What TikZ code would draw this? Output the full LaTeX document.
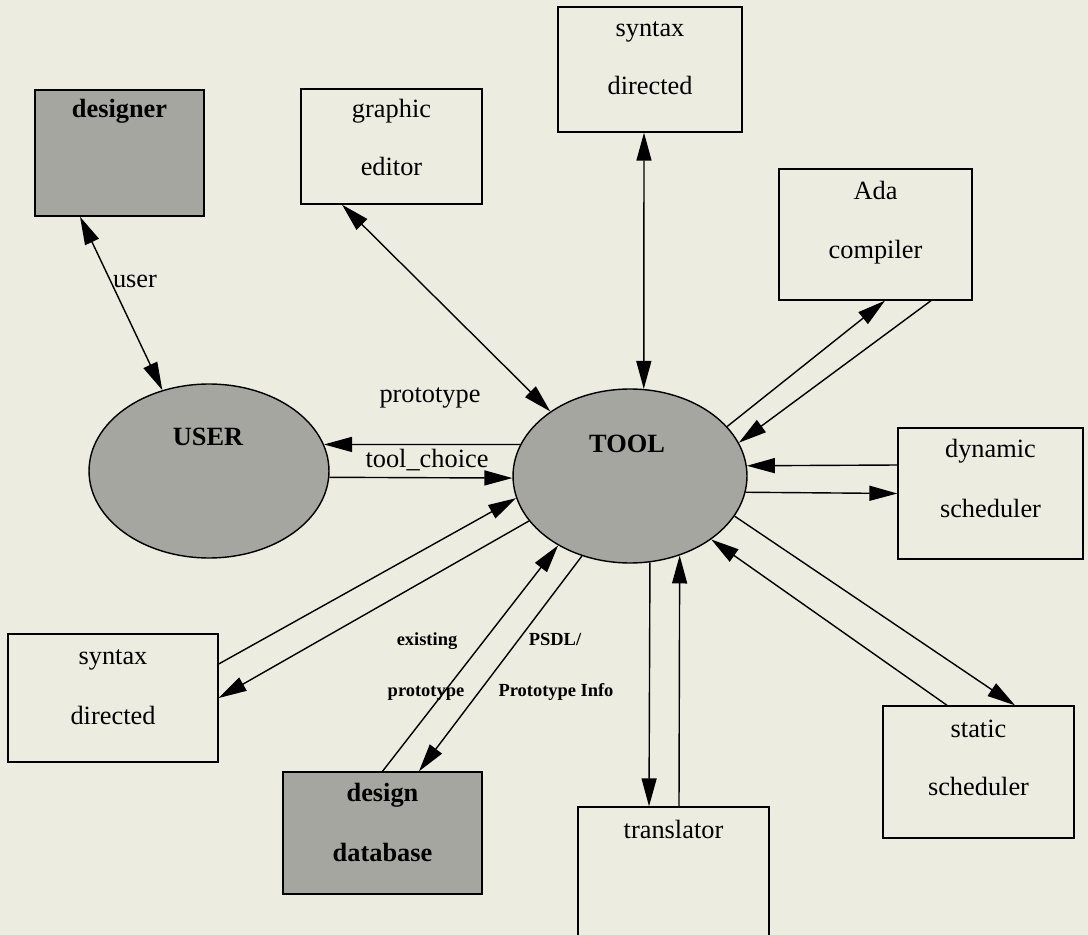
\documentclass[tikz,border=0pt]{standalone}
\usepackage{fontspec}
\setmainfont{Liberation Serif}
\usetikzlibrary{arrows.meta,shapes.geometric}
\definecolor{paper}{RGB}{237,236,225}
\definecolor{dots}{RGB}{166,166,161}
\tikzset{
    box/.style={draw, rectangle, inner sep=0pt, line width=0.8pt},
    shadedbox/.style={box, fill=dots},
    bubble/.style={draw, ellipse, inner sep=0pt, fill=dots, line width=0.8pt},
    txt/.style={anchor=base, inner sep=0pt, font=\fontsize{15}{18}\selectfont},
    bold txt/.style={txt, font=\fontsize{15}{18}\selectfont\bfseries},
    small txt/.style={txt, font=\fontsize{10.5}{12}\selectfont\bfseries},
    flow/.style={line width=0.8pt, -{Triangle[length=0.56cm,width=0.3cm]}},
    both flow/.style={flow, {Triangle[length=0.56cm,width=0.3cm]}-{Triangle[length=0.56cm,width=0.3cm]}}
}

\begin{document}
\begin{tikzpicture}[x=0.02cm, y=-0.02cm]
        \path[use as bounding box, fill=paper] (0,0) rectangle (1088,935);

        %processes
        \node[bubble, minimum width=4.80cm, minimum height=3.48cm](user) at (209,471){};
        \node[bold txt](user-t) at (208,446){USER};
        \node[bubble, minimum width=4.68cm, minimum height=3.48cm](tool) at (630,476){};
        \node[bold txt](tool-t) at (627,453){TOOL};

        %terminators
        \node[shadedbox, minimum width=3.38cm, minimum height=2.52cm](designer) at (119.5,153){};
        \node[bold txt](designer-t) at (119.5,118){designer};

        \node[box, minimum width=3.62cm, minimum height=2.30cm](editor) at (391.5,146.5){};
        \node[txt](editor-a) at (391.5,118){graphic};
        \node[txt](editor-b) at (391.5,176){editor};

        \node[box, minimum width=3.68cm, minimum height=2.50cm](syntaxtop) at (650,69.5){};
        \node[txt](syntaxtop-a) at (650,37){syntax};
        \node[txt](syntaxtop-b) at (650,95){directed};

        \node[box, minimum width=3.86cm, minimum height=2.62cm](ada) at (875.5,234.5){};
        \node[txt](ada-a) at (875.5,200){Ada};
        \node[txt](ada-b) at (875.5,259){compiler};

        \node[box, minimum width=3.70cm, minimum height=2.62cm](dynamic) at (990.5,493.5){};
        \node[txt](dynamic-a) at (990.5,458){dynamic};
        \node[txt](dynamic-b) at (990.5,517){scheduler};

        \node[box, minimum width=3.82cm, minimum height=2.64cm](static) at (978.5,772){};
        \node[txt](static-a) at (978.5,737){static};
        \node[txt](static-b) at (978.5,795){scheduler};

        \node[box, minimum width=3.82cm, minimum height=2.70cm](translator) at (673.5,874.5){};
        \node[txt](translator-a) at (673.5,838){translator};

        \node[shadedbox, minimum width=3.98cm, minimum height=2.44cm](database) at (382.5,833){};
        \node[bold txt](database-a) at (382.5,801){design};
        \node[bold txt](database-b) at (382.5,861){database};

        \node[box, minimum width=4.20cm, minimum height=2.56cm](syntaxleft) at (113,698){};
        \node[txt](syntaxleft-a) at (113,664){syntax};
        \node[txt](syntaxleft-b) at (113,724){directed};

        %flow labels
        \node[txt](lbl-user) at (135,288){user};
        \node[txt](lbl-proto) at (430,403){prototype};
        \node[txt](lbl-choice) at (427,467){tool\_choice};
        \node[small txt](lbl-exist) at (427,645){existing};
        \node[small txt](lbl-exproto) at (426,696){prototype};
        \node[small txt](lbl-psdl) at (555,645){PSDL/};
        \node[small txt](lbl-info) at (556,696){Prototype Info};

        %flows
        \draw[both flow] ([xshift=-0.79cm]designer.south) -- (user.120);
        \draw[both flow] ([xshift=-0.99cm]editor.south) -- (tool.141);
        \draw[both flow] ([xshift=-0.12cm]syntaxtop.south) -- (tool.81);
        \draw[flow] (tool.164) -- (user.13);
        \draw[flow] (user.-3) -- (tool.-179);
        \draw[flow] (tool.27) -- ([xshift=0.19cm]ada.south);
        \draw[flow] ([xshift=1.11cm]ada.south) -- (tool.17);
        \draw[flow] ([yshift=0.57cm]dynamic.west) -- (tool.5);
        \draw[flow] (tool.-8) -- (dynamic.west);
        \draw[flow] (tool.-21) -- ([xshift=0.73cm]static.north);
        \draw[flow] ([xshift=-0.63cm]static.north) -- (tool.-38);
        \draw[flow] (tool.-77) -- ([xshift=-0.49cm]translator.north);
        \draw[flow] ([xshift=0.11cm]translator.north) -- (tool.-58);
        \draw[flow] (database.north) -- (tool.-136);
        \draw[flow] (tool.-121) -- ([xshift=0.73cm]database.north);
        \draw[flow] ([yshift=0.68cm]syntaxleft.east) -- (tool.-169);
        \draw[flow] (tool.-156) -- (syntaxleft.east);
\end{tikzpicture}
\end{document}
